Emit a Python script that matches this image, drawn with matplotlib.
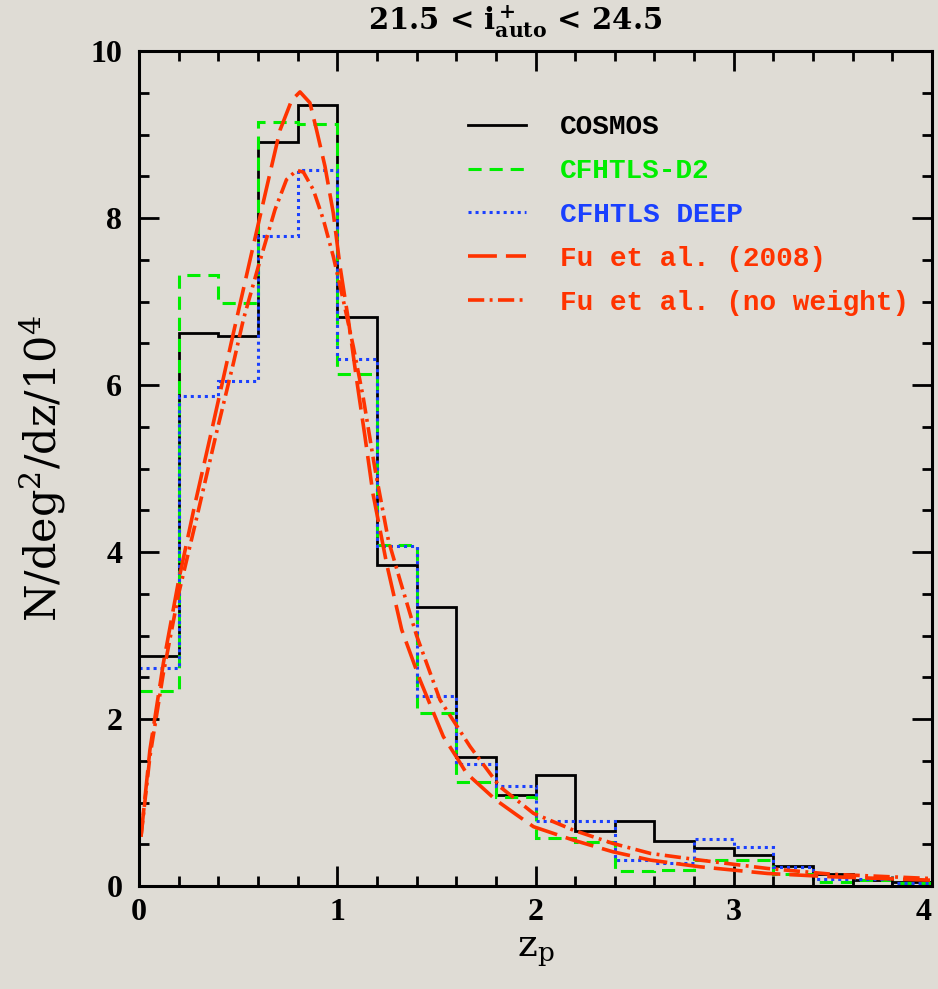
import matplotlib
matplotlib.use("Agg")
import matplotlib.pyplot as plt
import numpy as np

# photo-z histograms, bins of 0.2 from 0 to 4
z_edges = np.round(np.arange(0, 4.2, 0.2), 1)
cosmos = [2.75, 6.62, 6.59, 8.91, 9.35, 6.82, 3.84, 3.34, 1.55, 1.09,
          1.33, 0.66, 0.78, 0.54, 0.46, 0.37, 0.24, 0.14, 0.07, 0.05]
cfhtls_d2 = [2.33, 7.32, 6.98, 9.15, 9.13, 6.13, 4.08, 2.07, 1.25, 1.06,
             0.58, 0.53, 0.18, 0.19, 0.31, 0.31, 0.14, 0.05, 0.07, 0.04]
cfhtls_deep = [2.61, 5.87, 6.05, 7.78, 8.58, 6.31, 4.07, 2.28, 1.46, 1.20,
               0.78, 0.78, 0.31, 0.28, 0.56, 0.47, 0.23, 0.08, 0.08, 0.04]

# Fu et al. (2008) curve
fu_z = [0.01, 0.055, 0.123, 0.2, 0.28, 0.367, 0.476, 0.568, 0.66, 0.711,
        0.77, 0.812, 0.862, 0.896, 0.938, 0.98, 1.014, 1.056, 1.098, 1.14,
        1.18, 1.25, 1.325, 1.417, 1.535, 1.6, 1.652, 1.8, 1.9, 1.99,
        2.19, 2.39, 2.58, 2.83, 3.17, 3.5, 3.99]
fu_n = [0.59, 1.63, 2.67, 3.66, 4.55, 5.46, 6.62, 7.58, 8.53, 9.05,
        9.41, 9.51, 9.38, 9.05, 8.62, 8.06, 7.42, 6.78, 6.06, 5.38,
        4.70, 3.85, 3.07, 2.47, 1.79, 1.55, 1.35, 1.03, 0.86, 0.71,
        0.55, 0.41, 0.31, 0.23, 0.15, 0.11, 0.07]

# Fu et al. (no weight)
fu_nw_z = [0.01, 0.055, 0.123, 0.2, 0.29, 0.39, 0.476, 0.526, 0.602, 0.686,
           0.744, 0.795, 0.829, 0.879, 0.93, 0.98, 1.03, 1.081, 1.131, 1.19,
           1.258, 1.317, 1.40, 1.518, 1.67, 1.82, 1.99, 2.19, 2.39, 2.58,
           2.83, 3.17, 3.5, 3.99]
fu_nw_n = [0.59, 1.55, 2.55, 3.5, 4.4, 5.42, 6.26, 6.78, 7.42, 8.10,
           8.46, 8.57, 8.55, 8.34, 7.98, 7.54, 7.02, 6.46, 5.85, 5.0,
           4.14, 3.66, 3.0, 2.23, 1.67, 1.19, 0.87, 0.67, 0.51, 0.39,
           0.31, 0.21, 0.14, 0.09]

bg = "#dfdcd5"
red = "#ff3300"

fig = plt.figure(figsize=(9.38, 9.89), dpi=100, facecolor=bg)
ax = fig.add_axes([139/938, 103/989, 793/938, 835/989], facecolor=bg)

ax.stairs(cosmos, z_edges, baseline=None, color="black", lw=2.0,
          label="COSMOS")
ax.stairs(cfhtls_d2, z_edges, baseline=None, color="#00ee00", lw=2.2,
          linestyle=(0, (4.3, 2.6)), label="CFHTLS-D2")
ax.stairs(cfhtls_deep, z_edges, baseline=None, color="#1a40ff", lw=2.2,
          linestyle=(0, (1, 1.3)), label="CFHTLS DEEP")
ax.plot(fu_z, fu_n, color=red, lw=2.6, dashes=(8, 2.5),
        label="Fu et al. (2008)")
ax.plot(fu_nw_z, fu_nw_n, color=red, lw=2.6, dashes=(4.5, 1.5, 0.8, 1.5),
        label="Fu et al. (no weight)")

ax.set_xlim(0, 4)
ax.set_ylim(0, 10)
ax.set_xticks([0, 1, 2, 3, 4])
ax.set_xticks(np.arange(0, 4.01, 0.2), minor=True)
ax.set_yticks([0, 2, 4, 6, 8, 10])
ax.set_yticks(np.arange(0, 10.01, 0.5), minor=True)
ax.tick_params(which="both", direction="in", top=True, right=True,
               width=2, color="black")
ax.tick_params(which="major", length=14.5)
ax.tick_params(axis="x", which="major", pad=9)
ax.tick_params(axis="y", which="major", pad=12)
ax.tick_params(which="minor", length=7)
for lab in ax.get_xticklabels() + ax.get_yticklabels():
    lab.set_fontfamily("Liberation Serif")
    lab.set_fontweight("bold")
    lab.set_fontsize(23)
# keep the last x label inside the figure
ax.get_xticklabels()[-1].set_horizontalalignment("right")
for sp in ax.spines.values():
    sp.set_linewidth(2.2)

ax.set_xlabel(r"z$_\mathrm{p}$", fontsize=27, family="DejaVu Serif",
              math_fontfamily="dejavuserif", labelpad=4)
ax.set_ylabel(r"N/deg$^2$/dz/10$^4$", fontsize=31, family="DejaVu Serif",
              math_fontfamily="dejavuserif", labelpad=16)

fig.text(515/938, 1 - 22/989, r"21.5 < $\mathbf{i^+_{auto}}$ < 24.5",
         ha="center", va="center", fontsize=21, family="DejaVu Serif",
         fontweight="bold", math_fontfamily="dejavuserif")

leg = ax.legend(loc="upper left", bbox_to_anchor=(0.415, 0.924),
                frameon=False, borderpad=0, borderaxespad=0,
                handlelength=2.1, handletextpad=1.2, labelspacing=0.64,
                labelcolor="linecolor",
                prop={"family": "Liberation Mono", "weight": "bold",
                      "size": 20})

fig.savefig("out.png", dpi=100, facecolor=bg)
